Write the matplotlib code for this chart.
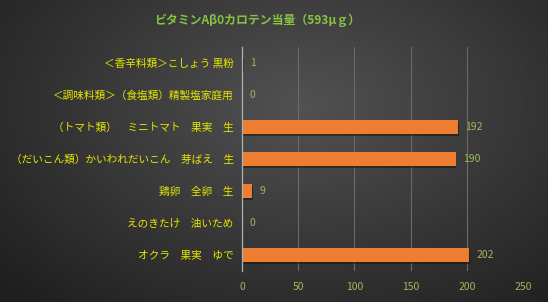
import matplotlib
matplotlib.use("Agg")
import matplotlib.pyplot as plt
import numpy as np

plt.rcParams['font.family'] = ['Noto Sans CJK JP', 'DejaVu Sans']

title = "ビタミンAβ0カロテン当量（593μｇ）"
categories = [
    "＜香辛料類＞こしょう 黒粉",
    "＜調味料類＞（食塩類）精製塩家庭用",
    "（トマト類）　ミニトマト　果実　生",
    "（だいこん類）かいわれだいこん　芽ばえ　生",
    "鶏卵　全卵　生",
    "えのきたけ　油いため",
    "オクラ　果実　ゆで",
]
values = [1, 0, 192, 190, 9, 0, 202]
xticks = [0, 50, 100, 150, 200, 250]

W, H = 548, 302
fig = plt.figure(figsize=(W/100, H/100), dpi=100)

# background radial gradient
bg = fig.add_axes([0, 0, 1, 1], zorder=0)
yy, xx = np.mgrid[0:H, 0:W]
cx, cy = W*0.55, H*0.35
r = np.sqrt(((xx-cx)/(W*0.75))**2 + ((yy-cy)/(H*0.9))**2)
r = np.clip(r, 0, 1)
c_in = np.array([0x52, 0x52, 0x52])/255
c_out = np.array([0x1e, 0x1e, 0x1e])/255
img = c_in[None, None, :]*(1-r[..., None]) + c_out[None, None, :]*r[..., None]
bg.imshow(img, aspect='auto', extent=[0, 1, 0, 1])
bg.set_axis_off()

ax = fig.add_axes([242/W, 31/H, (523-242)/W, (271-47)/H], zorder=1)
ax.patch.set_alpha(0)
y = np.arange(len(categories))
# shadow
ax.barh(y+0.06, values, height=0.45, left=0.8, color='#111111', alpha=0.5, zorder=2)
ax.barh(y, values, height=0.45, color='#ED7D31', zorder=3)
ax.set_yticks(y)
ax.set_yticklabels(categories, color='#e6e600', fontsize=7.7)
ax.set_ylim(len(categories)-0.5, -0.5)
ax.set_xlim(0, 250)
ax.set_xticks(xticks)
ax.set_xticklabels([str(t) for t in xticks], color='#9bbb59', fontsize=7.5)
ax.tick_params(axis='both', length=0, pad=6)
ax.tick_params(axis='x', pad=8)
ax.grid(axis='x', color='#6a6a6a', linewidth=0.8, zorder=1)
for s in ['top', 'right', 'bottom']:
    ax.spines[s].set_visible(False)
ax.spines['left'].set_color('#b0b0b0')
ax.spines['left'].set_linewidth(0.9)
ax.spines['left'].set_zorder(4)

for yi, v in zip(y, values):
    ax.text(v + 6.5, yi, str(v), color='#9bbb59', fontsize=7.5, va='center', ha='left', zorder=5)

fig.text(257/W, 1-20/H, title, color='#86c440', fontsize=8.6, ha='center', va='center', fontweight='bold')

fig.savefig('out.png', dpi=100)
